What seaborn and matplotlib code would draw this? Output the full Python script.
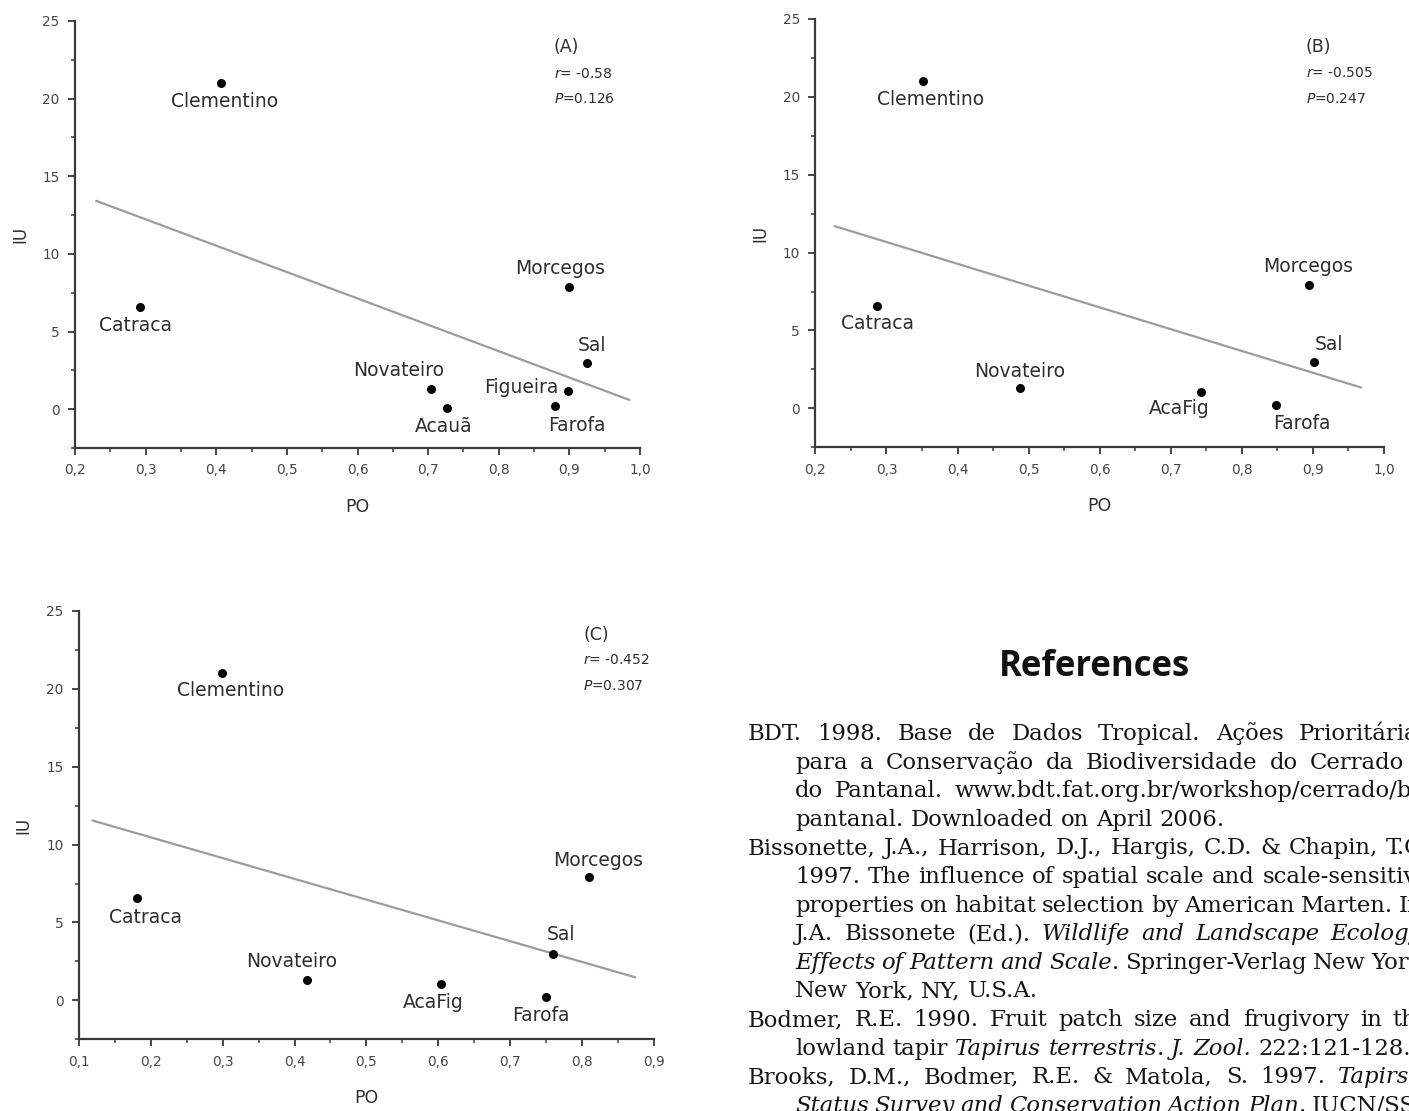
import numpy as np
import pandas as pd
import matplotlib
matplotlib.use("Agg")
import matplotlib.pyplot as plt
import seaborn as sns
from matplotlib.ticker import MultipleLocator, FuncFormatter
from matplotlib.transforms import IdentityTransform

# ---------------- data ----------------
sites_a = ["Clementino", "Catraca", "Morcegos", "Sal", "Novateiro", "Figueira", "Farofa", "Acauã"]
po_a = [0.407, 0.292, 0.899, 0.925, 0.704, 0.898, 0.879, 0.727]
iu_a = [21.0, 6.6, 7.9, 2.95, 1.3, 1.2, 0.2, 0.1]

sites_bc = ["Clementino", "Catraca", "Novateiro", "AcaFig", "Farofa", "Morcegos", "Sal"]
po_b = [0.351, 0.287, 0.488, 0.742, 0.848, 0.895, 0.902]
iu_b = [21.0, 6.6, 1.3, 1.05, 0.2, 7.9, 2.95]
po_c = [0.299, 0.1815, 0.417, 0.604, 0.750, 0.809, 0.760]
iu_c = [21.0, 6.6, 1.3, 1.05, 0.2, 7.9, 2.95]

panel_tags = ["(A)", "(B)", "(C)"]
r_values = ["-0.58", "-0.505", "-0.452"]
p_values = ["0.126", "0.247", "0.307"]

ref_title = "References"
ref_lines = [
    "BDT. 1998. Base de Dados Tropical. Ações Prioritárias",
    "para a Conservação da Biodiversidade do Cerrado e",
    "do Pantanal. www.bdt.fat.org.br/workshop/cerrado/br/",
    "pantanal. Downloaded on April 2006.",
    "Bissonette, J.A., Harrison, D.J., Hargis, C.D. & Chapin, T.G.",
    "1997. The influence of spatial scale and scale-sensitive",
    "properties on habitat selection by American Marten. In:",
    "J.A. Bissonete (Ed.). *Wildlife and Landscape Ecology:*",
    "*Effects of Pattern and Scale*. Springer-Verlag New York,",
    "New York, NY, U.S.A.",
    "Bodmer, R.E. 1990. Fruit patch size and frugivory in the",
    "lowland tapir *Tapirus terrestris*. *J. Zool.* 222:121-128.",
    "Brooks, D.M., Bodmer, R.E. & Matola, S. 1997. *Tapirs -*",
    "*Status Survey and Conservation Action Plan*. IUCN/SSC",
]
# first line of each reference (hanging indent) / last line of each reference (not justified)
first_lines = {0, 4, 10, 12}
last_lines = {3, 9, 11}

# ---------------- style ----------------
sns.set_style("ticks")
plt.rcParams["font.family"] = ["DejaVu Sans"]
plt.rcParams["mathtext.fontset"] = "dejavusans"

W, H = 1409, 1111
fig = plt.figure(figsize=(W / 100, H / 100), dpi=100)
fig.patch.set_facecolor("white")

AX_COL = "#3a3a3a"
TXT_COL = "#2e2e2e"


def px_axes(left, top, right, bottom):
    return fig.add_axes([left / W, 1 - bottom / H, (right - left) / W, (bottom - top) / H])


# layout (pixels): left, top, right, bottom
axA = px_axes(75, 21, 640, 448)
axB = px_axes(815.4, 19, 1384, 447.3)
axC = px_axes(78.8, 611, 654, 1039.3)

# label offsets in pixels (dx, dy up)
offsets = {
    "A": {"Clementino": (3, -18), "Catraca": (-4, -19), "Morcegos": (-9, 18), "Sal": (5, 18),
          "Novateiro": (-32, 18), "Figueira": (-47, 3), "Farofa": (22, -19), "Acauã": (-4, -19)},
    "B": {"Clementino": (8, -18), "Catraca": (0, -18), "Novateiro": (0, 17), "AcaFig": (-21, -16),
          "Farofa": (26, -18), "Morcegos": (-1, 19), "Sal": (15, 18)},
    "C": {"Clementino": (9, -17), "Catraca": (8, -20), "Novateiro": (-15, 19), "AcaFig": (-8, -18),
          "Farofa": (-5, -18), "Sal": (8, 20), "Morcegos": (10, 17)},
}

panels = [
    dict(key="A", ax=axA, sites=sites_a, po=po_a, iu=iu_a, fit=(0.23, 0.985), xlim=(0.2, 1.0),
         ann=(0.847, 0.94, 0.877, 0.817), wpx=565, hpx=427),
    dict(key="B", ax=axB, sites=sites_bc, po=po_b, iu=iu_b, fit=(0.227, 0.968), xlim=(0.2, 1.0),
         ann=(0.862, 0.935, 0.875, 0.814), wpx=568.6, hpx=428.3),
    dict(key="C", ax=axC, sites=sites_bc, po=po_c, iu=iu_c, fit=(0.119, 0.874), xlim=(0.1, 0.9),
         ann=(0.877, 0.944, 0.886, 0.825), wpx=575.2, hpx=428.3),
]

for i, p in enumerate(panels):
    ax = p["ax"]
    df = pd.DataFrame({"PO": p["po"], "IU": p["iu"], "site": p["sites"]})
    ax.set_xlim(*p["fit"])
    sns.regplot(data=df, x="PO", y="IU", ax=ax, scatter=False, ci=None, truncate=False,
                line_kws=dict(color="#9c9c9c", lw=1.6))
    sns.scatterplot(data=df, x="PO", y="IU", ax=ax, color="black", s=42, linewidth=0, zorder=3)
    ax.set_xlim(*p["xlim"])
    ax.set_ylim(-2.5, 25)

    for s, x, y in zip(df["site"], df["PO"], df["IU"]):
        dx, dy = offsets[p["key"]][s]
        ax.annotate(s, (x, y), xytext=(dx, dy), textcoords="offset pixels",
                    ha="center", va="center", fontsize=13.5, color=TXT_COL)

    ax_x, y1, y2, y3 = p["ann"]
    ax.text(ax_x, y1, panel_tags[i], transform=ax.transAxes, fontsize=12.5, color=TXT_COL,
            ha="left", va="center")
    ax.text(ax_x, y2, "$r$= " + r_values[i], transform=ax.transAxes, fontsize=10, color=TXT_COL,
            ha="left", va="center")
    ax.text(ax_x, y3, "$P$=" + p_values[i], transform=ax.transAxes, fontsize=10, color=TXT_COL,
            ha="left", va="center")

    ax.xaxis.set_major_locator(MultipleLocator(0.1))
    ax.xaxis.set_minor_locator(MultipleLocator(0.05))
    ax.yaxis.set_major_locator(MultipleLocator(5))
    ax.yaxis.set_minor_locator(MultipleLocator(2.5))
    ax.xaxis.set_major_formatter(FuncFormatter(lambda v, pos: f"{v:.1f}".replace(".", ",")))
    ax.yaxis.set_major_formatter(FuncFormatter(lambda v, pos: f"{v:.0f}"))
    ax.tick_params(which="major", direction="out", length=5, width=1.3, color=AX_COL,
                   labelsize=9.8, labelcolor="#454545", pad=6)
    ax.tick_params(which="minor", direction="out", length=3, width=1.1, color=AX_COL)
    sns.despine(ax=ax)
    for sp in ("left", "bottom"):
        ax.spines[sp].set_linewidth(1.6)
        ax.spines[sp].set_color(AX_COL)

    ax.set_xlabel("PO", fontsize=12.5, color=TXT_COL)
    ax.set_ylabel("IU", fontsize=12, color=TXT_COL)
    ax.xaxis.label.set_va("center")
    ax.yaxis.label.set_va("center")
    ax.xaxis.set_label_coords(0.5, -59 / p["hpx"])
    ax.yaxis.set_label_coords(-55 / p["wpx"], 0.5)
    ax.set_facecolor("none")

# ---------------- references text ----------------
renderer = fig.canvas.get_renderer()
fig.text(1094, H - 667, ref_title, transform=IdentityTransform(), fontsize=25,
         family=["Open Sans", "DejaVu Sans"], weight="bold", color="#111111",
         ha="center", va="center")

BODY_SIZE = 16.4
SERIF = ["DejaVu Serif"]


def parse(line):
    words, italic = [], False
    for raw in line.split(" "):
        segs, buf = [], ""
        for ch in raw:
            if ch == "*":
                if buf:
                    segs.append((buf, italic))
                    buf = ""
                italic = not italic
            else:
                buf += ch
        if buf:
            segs.append((buf, italic))
        if segs:
            words.append(segs)
    return words


def twidth(s, italic):
    t = fig.text(0, 0, s, transform=IdentityTransform(), fontsize=BODY_SIZE, family=SERIF,
                 style="italic" if italic else "normal")
    w = t.get_window_extent(renderer).width
    t.remove()
    return w


space_w = twidth("n n", False) - twidth("nn", False)
X_FIRST, X_INDENT, X_RIGHT = 748, 795, 1430
BASE0, LEAD = 740, 28.6

for i, line in enumerate(ref_lines):
    words = parse(line)
    x0 = X_FIRST if i in first_lines else X_INDENT
    y = H - (BASE0 + LEAD * i)
    objs, widths = [], []
    for segs in words:
        wo = []
        for s, it in segs:
            t = fig.text(0, y, s, transform=IdentityTransform(), fontsize=BODY_SIZE, family=SERIF,
                         style="italic" if it else "normal", color="#141414",
                         ha="left", va="baseline")
            wo.append(t)
        objs.append(wo)
        widths.append(sum(o.get_window_extent(renderer).width for o in wo))
    gap = space_w
    if i not in last_lines and len(words) > 1:
        gap = max((X_RIGHT - x0 - sum(widths)) / (len(words) - 1), space_w * 0.8)
    x = x0
    for wo, w in zip(objs, widths):
        xx = x
        for o in wo:
            o.set_position((xx, y))
            xx += o.get_window_extent(renderer).width
        x += w + gap

fig.savefig("out.png", dpi=100)
